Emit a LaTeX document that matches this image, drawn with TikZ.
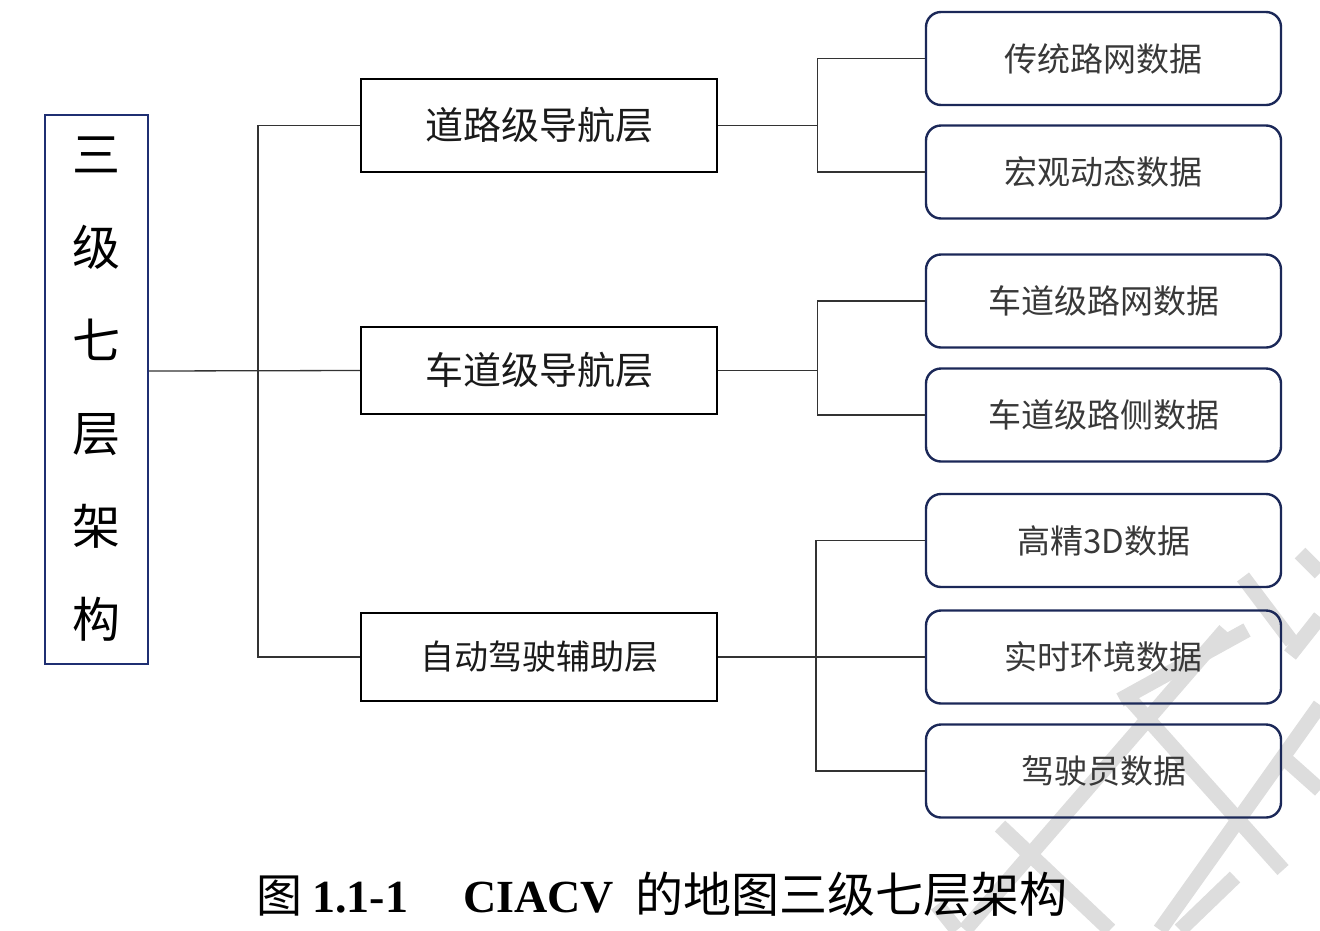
\documentclass[tikz,border=0pt]{standalone}
\usepackage{fontspec}
\setmainfont{Liberation Serif}
\newfontfamily\cjk{Noto Sans CJK SC}
\definecolor{navyA}{HTML}{1F2F72}
\definecolor{navyB}{HTML}{1B2858}
\definecolor{wirec}{HTML}{333333}
\definecolor{txtmid}{HTML}{1A1A1A}
\definecolor{txtleaf}{HTML}{383838}
\definecolor{wmark}{HTML}{DDDDDD}
\tikzset{
  rootbox/.style={draw=navyA, line width=2pt, minimum width=103pt, minimum height=549pt, inner sep=0pt, align=center, text=black, font=\cjk\fontsize{48}{93}\selectfont},
  midbox/.style={draw=black, line width=2.4pt, minimum width=356pt, inner sep=0pt, text=txtmid, font=\cjk\fontsize{38}{44}\selectfont},
  leafbox/.style={draw=navyB, line width=2.4pt, rounded corners=15pt, minimum width=355pt, minimum height=93pt, inner sep=0pt, text=txtleaf, font=\cjk\fontsize{33}{40}\selectfont},
  wire/.style={draw=wirec, line width=1.3pt},
  wm/.style={draw=wmark, line width=15pt},
  captxt/.style={anchor=base west, inner sep=0pt, text=black}
}
\begin{document}
\begin{tikzpicture}[x=1pt,y=-1pt]
\useasboundingbox (0,0) rectangle (1320,930);
% watermark fragments
\draw[wm] (1247,630) -- (1120,700);
\draw[wm] (1128,697) -- (1283,870);
\draw[wm] (1320,705) -- (1160,930);
\draw[wm] (1235,877) -- (1180,930);
\draw[wm] (1243,577) -- (1292,642);
\draw[wm] (1300,553) -- (1320,573);
\draw[wm] (1320,617) -- (1290,655);
\draw[wm] (1283,757) -- (1320,790);
\draw[wm] (1225,630) -- (965,930);
\draw[wm] (1000,826) -- (1110,930);
\draw[wm] (937,905) -- (957,930);
% root
\node[rootbox] (root) at (96.5,389.5) {三\\级\\七\\层\\架\\构};
% middle layer
\node[midbox, minimum height=93pt] (mid1) at (539,125.5) {道路级导航层};
\node[midbox, minimum height=87pt] (mid2) at (539,370.5) {车道级导航层};
\node[midbox, minimum height=88pt, font=\cjk\fontsize{34}{40}\selectfont] (mid3) at (539,657) {自动驾驶辅助层};
% leaves
\node[leafbox] (r1) at (1103.5,58.5) {传统路网数据};
\node[leafbox] (r2) at (1103.5,172) {宏观动态数据};
\node[leafbox] (r3) at (1103.5,301) {车道级路网数据};
\node[leafbox] (r4) at (1103.5,415) {车道级路侧数据};
\node[leafbox] (r5) at (1103.5,540.5) {高精3D数据};
\node[leafbox] (r6) at (1103.5,657) {实时环境数据};
\node[leafbox] (r7) at (1103.5,771) {驾驶员数据};
% connectors root -> middle
\coordinate (j0) at (258,371);
\draw[wire] (root.east |- j0) -- (mid2.west);
\draw[wire] (mid1.west) -| (j0) |- (mid3.west);
% middle -> leaves
\draw[wire] (mid1.east) -- ++(99,0) coordinate (b1);
\draw[wire] (r1.west) -| (b1) |- (r2.west);
\draw[wire] (mid2.east) -- ++(99,0) coordinate (b2);
\draw[wire] (r3.west) -| (b2) |- (r4.west);
\draw[wire] (mid3.east) -- (r6.west);
\coordinate (b3) at (816,657);
\draw[wire] (r5.west) -| (b3) |- (r7.west);
% caption
\node[captxt, font=\cjk\fontsize{46}{50}\selectfont] (capA) at (256,912) {图};
\node[captxt, font=\bfseries\fontsize{46}{50}\selectfont] (capB) at (312,912) {1.1-1};
\node[captxt, font=\bfseries\fontsize{46}{50}\selectfont] (capC) at (463,912) {CIACV};
\node[captxt, font=\cjk\fontsize{48}{52}\selectfont] (capD) at (635,912) {的地图三级七层架构};
\end{tikzpicture}
\end{document}
